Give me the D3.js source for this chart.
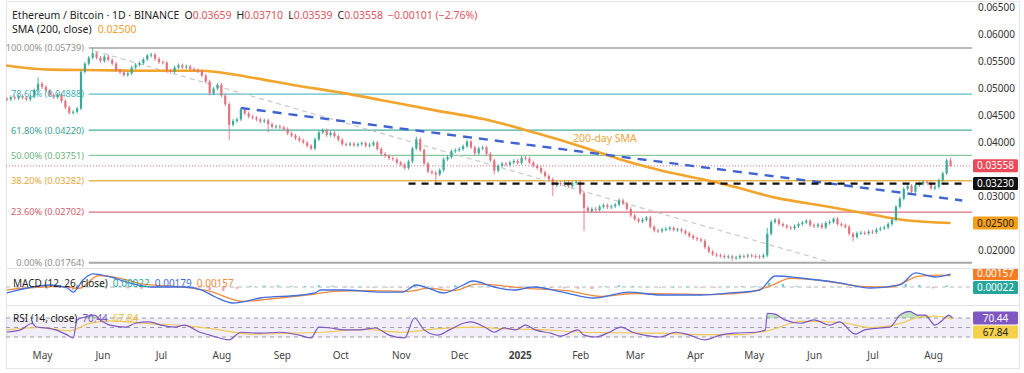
<!DOCTYPE html>
<html>
<head>
<meta charset="utf-8">
<script src="https://cdn.jsdelivr.net/npm/d3@7/dist/d3.min.js"></script>
<style>
  body { margin: 0; background: #fff; }
  svg { display: block; font-family: "Noto Sans", "Open Sans", sans-serif; }
</style>
</head>
<body>
<div id="chart"></div>
<script>
// ETH/BTC daily chart (drawn as two-day bars), prices in 1e-5 BTC
var barStart = "2024-04-11";
var firstOpen = 4780;
var barCloses = [
  4800,4790,4830,4810,4850,4820,4790,4840,4960,5080,                 // Apr 2024
  5020,4950,4870,4830,4880,4760,4640,4540,4560,4620,5300,5450,5560,5640,5560,5500, // May
  5580,5520,5450,5330,5290,5240,5270,5380,5430,5460,5530,5600,5620,5540,5480,      // Jun
  5470,5320,5300,5380,5420,5380,5400,5350,5330,5310,5230,5120,4900,4990,5060,      // Jul
  4860,4700,4320,4390,4420,4600,4530,4470,4450,4420,4380,4400,4330,4280,4290,4270, // Aug
  4240,4160,4120,4070,4030,3990,3930,3880,4050,4180,4220,4130,4170,4110,4040,      // Sep
  3960,3950,3970,3940,3960,3980,3930,3950,3990,3870,3780,3740,3700,3680,3620,      // Oct
  3580,3520,3640,3880,4050,3850,3600,3450,3430,3400,3480,3680,3720,3830,3850,      // Nov
  3870,3920,4010,3900,3790,3880,3900,3780,3660,3470,3560,3600,3580,3620,3650,3610, // Dec
  3710,3690,3620,3560,3520,3440,3370,3310,3200,3240,3220,3250,3180,3240,3260,      // Jan 2025
  3050,2780,2720,2760,2740,2800,2830,2790,2810,2840,2920,2860,2760,2640,           // Feb
  2570,2530,2560,2600,2430,2360,2350,2380,2390,2410,2370,2380,2350,2310,2260,2220, // Mar
  2200,2170,2050,1970,1920,1900,1890,1870,1880,1850,1860,1890,1880,1900,1890,      // Apr
  1880,1870,1900,2300,2520,2560,2480,2450,2420,2400,2440,2480,2510,2540,2460,      // May
  2440,2470,2420,2500,2520,2580,2480,2460,2430,2300,2240,2310,2320,2310,2340,      // Jun
  2330,2380,2400,2420,2480,2560,2800,2950,3130,3190,3080,3200,3230,3260,3240,3140, // Jul
  3170,3290,3420,3659,3558                                                         // Aug
];
// notable wicks: [bar date, high, low]
var wicks = [
  ["2024-04-29", 5200, null], ["2024-05-27", 5739, null], ["2024-08-05", null, 4040],
  ["2024-08-25", null, 4180], ["2024-11-09", 4100, null], ["2024-11-19", null, 3200],
  ["2024-12-05", 4040, null], ["2024-12-19", null, 3400], ["2025-01-02", 3740, null],
  ["2025-01-18", null, 3000], ["2025-02-03", null, 2350], ["2025-02-21", 2960, null],
  ["2025-04-20", null, 1800], ["2025-05-08", 2410, null], ["2025-06-11", 2600, null],
  ["2025-06-21", null, 2160], ["2025-08-10", 3710, 3539]
];

var smaPoints = [
  ["2024-04-10",5430],["2024-05-05",5340],["2024-05-31",5330],["2024-06-26",5320],
  ["2024-07-21",5320],["2024-08-14",5210],["2024-09-06",5060],["2024-10-02",4910],
  ["2024-10-23",4770],["2024-11-18",4590],["2024-12-14",4420],["2025-01-09",4170],
  ["2025-02-03",3900],["2025-02-23",3660],["2025-03-16",3460],["2025-04-06",3300],
  ["2025-04-19",3190],["2025-05-12",2970],["2025-06-07",2810],["2025-06-27",2680],
  ["2025-07-18",2550],["2025-08-10",2500]
];

var fibLabels = ["100.00%", "78.60%", "61.80%", "50.00%", "38.20%", "23.60%", "0.00%"];
var fibValues = [0.05739, 0.04888, 0.04220, 0.03751, 0.03282, 0.02702, 0.01764];
var fibStart = "2024-05-25";

var trendBlue = [["2024-08-11", 0.04630], ["2025-08-16", 0.02917]];
var trendGray = [["2024-05-28", 0.05685], ["2025-06-09", 0.01778]];
var supportLine = [["2024-11-05", 0.03230], ["2025-08-16", 0.03230]];
var lastPrice = 0.03558;

var priceTicks = [0.065, 0.060, 0.055, 0.050, 0.045, 0.040, 0.030, 0.020];
var monthTicks = ["2024-05-01","2024-06-01","2024-07-01","2024-08-01","2024-09-01","2024-10-01",
  "2024-11-01","2024-12-01","2025-01-01","2025-02-01","2025-03-01","2025-04-01","2025-05-01",
  "2025-06-01","2025-07-01","2025-08-01"];
var monthLabels = ["May","Jun","Jul","Aug","Sep","Oct","Nov","Dec","2025","Feb","Mar","Apr","May","Jun","Jul","Aug"];

// MACD (12, 26) in 1e-5
var macdLine = [
  ["2024-04-13",-83],["2024-04-26",0],["2024-05-05",28],["2024-05-14",-14],["2024-05-17",-70],
  ["2024-05-22",97],["2024-05-27",181],["2024-06-05",139],["2024-06-15",56],["2024-06-26",0],
  ["2024-07-13",0],["2024-07-22",-42],["2024-07-29",-139],["2024-08-07",-222],["2024-08-21",-153],
  ["2024-09-11",-111],["2024-09-18",-83],["2024-09-21",-42],["2024-10-02",-42],["2024-10-23",-70],
  ["2024-11-02",-70],["2024-11-09",28],["2024-11-15",-14],["2024-11-23",-83],["2024-12-03",28],
  ["2024-12-08",83],["2024-12-19",0],["2024-12-29",-42],["2025-01-08",0],["2025-01-23",-70],
  ["2025-02-08",-153],["2025-02-26",-70],["2025-03-14",-111],["2025-04-04",-111],["2025-04-19",-83],
  ["2025-05-04",-42],["2025-05-12",153],["2025-05-25",125],["2025-06-14",56],["2025-06-30",-14],
  ["2025-07-15",28],["2025-07-23",195],["2025-08-02",139],["2025-08-10",179]
];
var signalLine = [
  ["2024-04-13",-40],["2024-04-30",0],["2024-05-10",10],["2024-05-20",-20],["2024-05-30",160],
  ["2024-06-10",120],["2024-06-22",40],["2024-07-10",5],["2024-07-25",-50],["2024-08-12",-200],
  ["2024-08-28",-160],["2024-09-15",-110],["2024-09-28",-60],["2024-10-15",-50],["2024-11-05",-60],
  ["2024-11-15",-20],["2024-11-28",-50],["2024-12-10",40],["2024-12-22",20],["2025-01-05",-20],
  ["2025-01-25",-50],["2025-02-12",-130],["2025-03-01",-90],["2025-03-20",-95],["2025-04-10",-105],
  ["2025-04-28",-75],["2025-05-10",20],["2025-05-20",120],["2025-06-05",90],["2025-06-25",10],
  ["2025-07-10",0],["2025-07-25",150],["2025-08-05",165],["2025-08-10",157]
];
var histStart = "2024-04-12"; // weekly
var histValues = [
  -40,-20,5,15,-5,-40,40,35,5,-20,-25,-15,-8,-3,-15,-40,-55,-25,15,20,20,15,12,25,18,8,5,0,-8,-5,
  35,10,-20,25,30,10,-15,-20,10,8,-15,-20,-25,-30,10,25,15,5,-8,5,5,-5,-5,10,12,15,60,45,15,-5,
  -5,5,-15,-10,10,20,45,30,-20,22
];

// RSI (14) and its moving average
var rsiLine = [
  ["2024-04-13",40.5],["2024-04-20",45],["2024-04-26",59],["2024-04-28",51],["2024-05-03",49],
  ["2024-05-08",45],["2024-05-14",34],["2024-05-17",28],["2024-05-19",66],["2024-05-23",72],
  ["2024-05-28",76],["2024-05-31",66],["2024-06-05",55],["2024-06-13",51],["2024-06-18",59],
  ["2024-06-25",62],["2024-07-01",55],["2024-07-08",51],["2024-07-13",55],["2024-07-21",40],
  ["2024-07-26",34],["2024-08-05",24],["2024-08-11",40],["2024-08-21",38],["2024-08-31",40],
  ["2024-09-10",34],["2024-09-16",28],["2024-09-20",51],["2024-09-26",49],["2024-10-03",45],
  ["2024-10-11",45],["2024-10-19",49],["2024-10-26",34],["2024-11-03",28],["2024-11-08",70],
  ["2024-11-13",45],["2024-11-20",34],["2024-11-26",45],["2024-12-04",60],["2024-12-07",62],
  ["2024-12-14",51],["2024-12-19",40],["2024-12-24",49],["2024-12-30",45],["2025-01-04",55],
  ["2025-01-09",45],["2025-01-17",38],["2025-01-22",32],["2025-01-31",45],["2025-02-03",34],
  ["2025-02-09",30],["2025-02-16",40],["2025-02-22",51],["2025-02-28",40],["2025-03-06",34],
  ["2025-03-14",30],["2025-03-22",40],["2025-03-29",34],["2025-04-06",24],["2025-04-14",34],
  ["2025-04-21",38],["2025-05-02",40],["2025-05-07",45],["2025-05-08",80],["2025-05-12",78],
  ["2025-05-17",66],["2025-05-25",59],["2025-06-01",66],["2025-06-09",55],["2025-06-14",62],
  ["2025-06-22",36],["2025-06-27",45],["2025-07-05",49],["2025-07-10",51],["2025-07-15",76],
  ["2025-07-20",84],["2025-07-24",76],["2025-07-28",76],["2025-08-02",55],["2025-08-06",66],
  ["2025-08-09",76],["2025-08-11",70.44]
];
var rsiMa = [
  ["2024-04-13",45],["2024-05-01",50],["2024-05-15",43],["2024-05-25",58],["2024-06-05",64],
  ["2024-06-25",58],["2024-07-16",53],["2024-07-31",45],["2024-08-16",36],["2024-09-06",38],
  ["2024-09-22",40],["2024-10-13",46],["2024-11-02",40],["2024-11-19",47],["2024-12-09",51],
  ["2024-12-25",47],["2025-01-15",45],["2025-02-01",40],["2025-02-21",39],["2025-03-14",38],
  ["2025-04-04",35],["2025-04-25",35],["2025-05-10",45],["2025-05-25",63],["2025-06-14",61],
  ["2025-06-30",50],["2025-07-15",58],["2025-07-25",72],["2025-08-02",74],["2025-08-11",67.84]
];

// ---------------------------------------------------------------
var W = 1024, H = 373, plotRight = 972;
var parse = d3.timeParse("%Y-%m-%d");
var fmtDay = d3.timeFormat("%Y-%m-%d");

var svg = d3.select("#chart").append("svg").attr("width", W).attr("height", H);

var x = d3.scaleTime().domain([new Date(2024, 4, 1), new Date(2025, 7, 1)]).range([42, 933]);
var y = d3.scaleLinear().domain([0.065, 0.020]).range([7, 250]);
var yMacd = d3.scaleLinear().domain([0.0025, -0.0025]).range([269, 305]);
var yRsi = d3.scaleLinear().domain([70, 30]).range([318, 337]);

var defs = svg.append("defs");
defs.append("clipPath").attr("id", "clipPrice").append("rect").attr("x", 6).attr("y", 0).attr("width", plotRight - 6).attr("height", 268);
defs.append("clipPath").attr("id", "clipMacd").append("rect").attr("x", 6).attr("y", 269).attr("width", plotRight - 6).attr("height", 36);
defs.append("clipPath").attr("id", "clipRsi").append("rect").attr("x", 6).attr("y", 306).attr("width", plotRight - 6).attr("height", 38);
defs.append("clipPath").attr("id", "clipMacdLab").append("rect").attr("x", 960).attr("y", 269).attr("width", 64).attr("height", 36);

// frame and panel separators
svg.append("rect").attr("x", 6.5).attr("y", 1.5).attr("width", 1013).attr("height", 367)
  .attr("fill", "none").attr("stroke", "#e3e5ea");
[268.5, 305.5].forEach(function(s) {
  svg.append("line").attr("x1", 6).attr("x2", 1020).attr("y1", s).attr("y2", s)
    .attr("stroke", "#e0e3eb").attr("stroke-width", 1);
});

// ---------------- price panel ----------------
var price = svg.append("g").attr("clip-path", "url(#clipPrice)");

// fib levels
var fibColors = ["#a3a3a3", "#5cbfc6", "#49ada3", "#8cc79a", "#eab64a", "#d9707e", "#a9a9a9"];
var fibText = ["#8f8f8f", "#3fb0b8", "#3c9f94", "#6fb27d", "#e4a83a", "#cf5e6d", "#8f8f8f"];
var fibWidth = [1.5, 1.3, 1.3, 1.3, 1.5, 1.3, 2.2];
fibValues.forEach(function(v, i) {
  price.append("line")
    .attr("x1", x(parse(fibStart))).attr("x2", plotRight)
    .attr("y1", y(v)).attr("y2", y(v))
    .attr("stroke", fibColors[i]).attr("stroke-width", fibWidth[i]);
});

// last price dotted line
price.append("line").attr("x1", 6).attr("x2", plotRight)
  .attr("y1", y(lastPrice)).attr("y2", y(lastPrice))
  .attr("stroke", "#d9707e").attr("stroke-width", 1).attr("stroke-dasharray", "1,2");

// gray thin trend line
price.append("line")
  .attr("x1", x(parse(trendGray[0][0]))).attr("y1", y(trendGray[0][1]))
  .attr("x2", x(parse(trendGray[1][0]))).attr("y2", y(trendGray[1][1]))
  .attr("stroke", "#c8c8c8").attr("stroke-width", 1.2).attr("stroke-dasharray", "5,4");

// SMA 200
var smaLine = d3.line()
  .x(function(d) { return x(parse(d[0])); })
  .y(function(d) { return y(d[1] / 1e5); })
  .curve(d3.curveMonotoneX);
price.append("path").datum(smaPoints).attr("d", smaLine)
  .attr("fill", "none").attr("stroke", "#f2a42c").attr("stroke-width", 2.6);

// candles
var wickMap = {};
wicks.forEach(function(w) { wickMap[w[0]] = w; });
var bars = barCloses.map(function(c, i) {
  var date = d3.timeDay.offset(parse(barStart), 2 * i);
  var o = i ? barCloses[i - 1] : firstOpen;
  var w = wickMap[fmtDay(date)];
  return {
    date: date, open: o / 1e5, close: c / 1e5,
    high: w && w[1] != null ? w[1] / 1e5 : null,
    low: w && w[2] != null ? w[2] / 1e5 : null
  };
});
var upCol = "#3aa996", downCol = "#e2737f", bw = 2.2;
var candle = price.append("g").selectAll("g").data(bars).enter().append("g");
candle.append("line")
  .attr("x1", function(d) { return x(d.date); })
  .attr("x2", function(d) { return x(d.date); })
  .attr("y1", function(d) { return d.high != null ? y(d.high) : y(Math.max(d.open, d.close)) - 1.8; })
  .attr("y2", function(d) { return d.low != null ? y(d.low) : y(Math.min(d.open, d.close)) + 1.8; })
  .attr("stroke", function(d) { return d.close >= d.open ? upCol : downCol; })
  .attr("stroke-width", 0.9);
candle.append("rect")
  .attr("x", function(d) { return x(d.date) - bw / 2; })
  .attr("y", function(d) { return y(Math.max(d.open, d.close)); })
  .attr("width", bw)
  .attr("height", function(d) { return Math.max(1, Math.abs(y(d.open) - y(d.close))); })
  .attr("fill", function(d) { return d.close >= d.open ? upCol : downCol; });

// blue falling trend line
price.append("line")
  .attr("x1", x(parse(trendBlue[0][0]))).attr("y1", y(trendBlue[0][1]))
  .attr("x2", x(parse(trendBlue[1][0]))).attr("y2", y(trendBlue[1][1]))
  .attr("stroke", "#3f64cf").attr("stroke-width", 2.4).attr("stroke-dasharray", "9,7");

// black horizontal support
price.append("line")
  .attr("x1", x(parse(supportLine[0][0]))).attr("y1", y(supportLine[0][1]))
  .attr("x2", x(parse(supportLine[1][0]))).attr("y2", y(supportLine[1][1]))
  .attr("stroke", "#111").attr("stroke-width", 2.4).attr("stroke-dasharray", "7,6");

// 200-day SMA note
svg.append("text").attr("x", 573).attr("y", 141.5)
  .attr("font-size", 10.5).attr("fill", "#eea63a").text("200-day SMA");

// fib labels
fibValues.forEach(function(v, i) {
  svg.append("text").attr("x", 84).attr("y", y(v) + 3.4)
    .attr("text-anchor", "end").attr("font-size", 9.2).attr("fill", fibText[i])
    .text(fibLabels[i] + " (" + d3.format(".5f")(v) + ")");
});

// header
var head = svg.append("text").attr("x", 12).attr("y", 19).attr("font-size", 10.5).attr("fill", "#222");
head.append("tspan").text("Ethereum / Bitcoin · 1D · BINANCE");
[["O", "0.03659"], ["H", "0.03710"], ["L", "0.03539"], ["C", "0.03558"]].forEach(function(p) {
  head.append("tspan").attr("dx", 5).text(p[0]);
  head.append("tspan").attr("fill", "#e05461").text(p[1]);
});
head.append("tspan").attr("dx", 5).attr("fill", "#e05461").text("−0.00101 (−2.76%)");
var head2 = svg.append("text").attr("x", 12).attr("y", 33).attr("font-size", 10.5).attr("fill", "#222");
head2.append("tspan").text("SMA (200, close)");
head2.append("tspan").attr("dx", 6).attr("fill", "#f0a030").text("0.02500");

// price axis
var pAxis = svg.append("g").attr("transform", "translate(978,0)")
  .call(d3.axisRight(y).tickValues(priceTicks).tickFormat(d3.format(".5f")).tickSize(0).tickPadding(0));
pAxis.select(".domain").remove();
pAxis.selectAll("text").attr("font-size", 10).attr("fill", "#333").attr("font-family", "Noto Sans, sans-serif");

function tag(yc, txt, bg, fg, clip) {
  var g = svg.append("g");
  if (clip) g.attr("clip-path", "url(#" + clip + ")");
  g.append("rect").attr("x", 973).attr("y", yc - 6.5).attr("width", 45).attr("height", 13)
    .attr("rx", 1.5).attr("fill", bg);
  g.append("text").attr("x", 995.5).attr("y", yc + 3.6).attr("text-anchor", "middle")
    .attr("font-size", 10).attr("fill", fg).text(txt);
}
tag(y(lastPrice), "0.03558", "#ec4a58", "#fff");
tag(y(0.03230), "0.03230", "#111", "#fff");
tag(y(0.02500), "0.02500", "#f7a01c", "#222");

// ---------------- MACD panel ----------------
var macd = svg.append("g").attr("clip-path", "url(#clipMacd)");
macd.append("line").attr("x1", 6).attr("x2", plotRight).attr("y1", yMacd(0)).attr("y2", yMacd(0))
  .attr("stroke", "#b5b8c0").attr("stroke-dasharray", "4,4");
var hb = histValues.map(function(v, i) {
  return { date: d3.timeDay.offset(parse(histStart), 7 * i), v: v / 1e5 };
});
macd.selectAll(".hist").data(hb).enter().append("rect")
  .attr("x", function(d) { return x(d.date) - 1.2; })
  .attr("width", 2.4)
  .attr("y", function(d) { return Math.min(yMacd(d.v), yMacd(0)); })
  .attr("height", function(d) { return Math.max(0.8, Math.abs(yMacd(d.v) - yMacd(0))); })
  .attr("fill", function(d) { return d.v >= 0 ? "#7fcfc3" : "#f3a5ab"; });
var mLine = d3.line()
  .x(function(d) { return x(parse(d[0])); })
  .y(function(d) { return yMacd(d[1] / 1e5); })
  .curve(d3.curveMonotoneX);
macd.append("path").datum(signalLine).attr("d", mLine)
  .attr("fill", "none").attr("stroke", "#f08a3e").attr("stroke-width", 1.3);
macd.append("path").datum(macdLine).attr("d", mLine)
  .attr("fill", "none").attr("stroke", "#3f6fe0").attr("stroke-width", 1.3);

var mh = svg.append("text").attr("x", 13).attr("y", 286.5).attr("font-size", 10).attr("fill", "#222");
mh.append("tspan").text("MACD (12, 26, close)");
mh.append("tspan").attr("dx", 5).attr("fill", "#26a69a").text("0.00022");
mh.append("tspan").attr("dx", 5).attr("fill", "#3f6fe0").text("0.00179");
mh.append("tspan").attr("dx", 5).attr("fill", "#f08a3e").text("0.00157");

tag(273.5, "0.00157", "#f57c22", "#fff", "clipMacdLab");
tag(287.5, "0.00022", "#26a69a", "#fff", "clipMacdLab");

// ---------------- RSI panel ----------------
var rsi = svg.append("g").attr("clip-path", "url(#clipRsi)");
rsi.append("rect").attr("x", 6).attr("width", plotRight - 6)
  .attr("y", yRsi(70)).attr("height", yRsi(30) - yRsi(70)).attr("fill", "rgba(126,87,194,0.1)");
[70, 50, 30].forEach(function(l) {
  rsi.append("line").attr("x1", 6).attr("x2", plotRight).attr("y1", yRsi(l)).attr("y2", yRsi(l))
    .attr("stroke", "#9a9ca6").attr("stroke-dasharray", "4,4");
});
var rLine = d3.line()
  .x(function(d) { return x(parse(d[0])); })
  .y(function(d) { return yRsi(d[1]); })
  .curve(d3.curveMonotoneX);
var rArea = d3.area()
  .x(function(d) { return x(parse(d[0])); })
  .y0(yRsi(70))
  .y1(function(d) { return yRsi(Math.max(70, d[1])); })
  .curve(d3.curveMonotoneX);
rsi.append("path").datum(rsiLine).attr("d", rArea).attr("fill", "rgba(76,175,80,0.35)");
rsi.append("path").datum(rsiMa).attr("d", rLine)
  .attr("fill", "none").attr("stroke", "#f1cb55").attr("stroke-width", 1.2);
rsi.append("path").datum(rsiLine).attr("d", rLine)
  .attr("fill", "none").attr("stroke", "#7e57c2").attr("stroke-width", 1.2);

var rh = svg.append("text").attr("x", 13).attr("y", 322).attr("font-size", 10).attr("fill", "#222");
rh.append("tspan").text("RSI (14, close)");
rh.append("tspan").attr("dx", 5).attr("fill", "#7e57c2").text("70.44");
rh.append("tspan").attr("dx", 5).attr("fill", "#e8c23a").text("67.84");

tag(318, "70.44", "#7e57c2", "#fff");
tag(332, "67.84", "#f5d04a", "#222");

// ---------------- time axis ----------------
var tAxis = svg.append("g").attr("transform", "translate(0,352)")
  .call(d3.axisBottom(x).tickValues(monthTicks.map(parse))
    .tickFormat(function(d, i) { return monthLabels[i]; }).tickSize(0).tickPadding(0));
tAxis.select(".domain").remove();
tAxis.selectAll("text").attr("font-size", 10).attr("fill", "#444").attr("dy", "0.71em")
  .attr("font-family", "Noto Sans, sans-serif")
  .attr("font-weight", function(d, i) { return monthLabels[i] === "2025" ? "bold" : null; });
</script>
</body>
</html>
